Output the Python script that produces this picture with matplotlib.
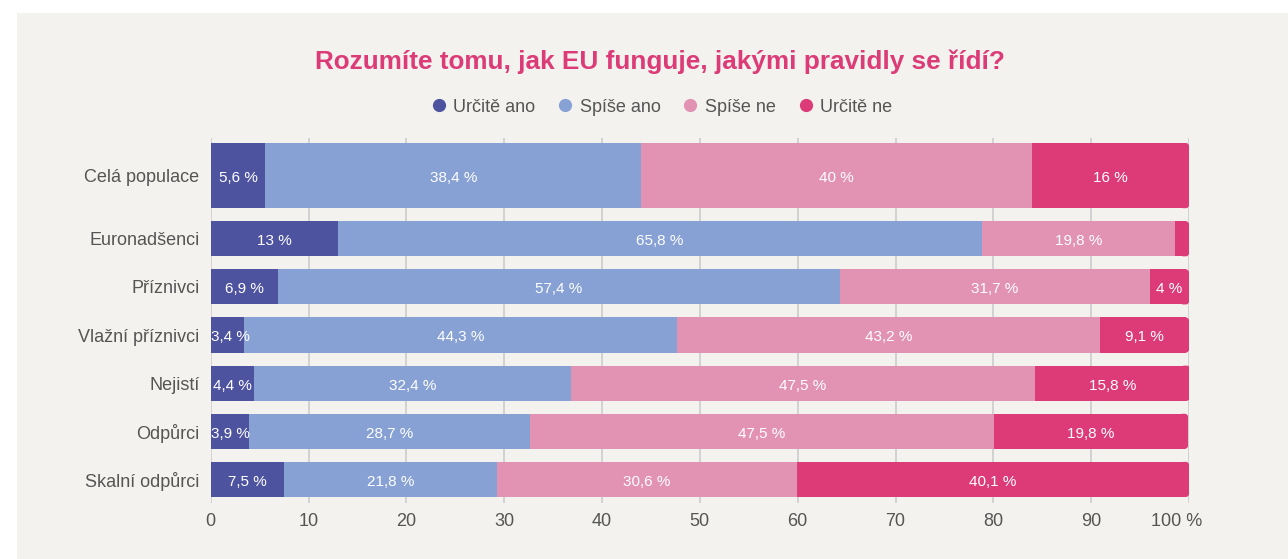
import numpy as np
import matplotlib.pyplot as plt
from matplotlib.patches import Rectangle, FancyBboxPatch
from matplotlib.lines import Line2D
from matplotlib.transforms import ScaledTranslation

# data
categories = ["Celá populace", "Euronadšenci", "Příznivci", "Vlažní příznivci",
              "Nejistí", "Odpůrci", "Skalní odpůrci"]
series = ["Určitě ano", "Spíše ano", "Spíše ne", "Určitě ne"]
urcite_ano = [5.6, 13, 6.9, 3.4, 4.4, 3.9, 7.5]
spise_ano = [38.4, 65.8, 57.4, 44.3, 32.4, 28.7, 21.8]
spise_ne = [40, 19.8, 31.7, 43.2, 47.5, 47.5, 30.6]
urcite_ne = [16, 1.4, 4, 9.1, 15.8, 19.8, 40.1]
xticks = [0, 10, 20, 30, 40, 50, 60, 70, 80, 90, 100]
xticklabels = ["0", "10", "20", "30", "40", "50", "60", "70", "80", "90", "100 %"]

colors = ["#4e53a0", "#87a1d4", "#e293b3", "#dc3b77"]
bg = "#f3f2ee"
text_col = "#555555"

plt.rcParams["font.family"] = ["Liberation Sans", "DejaVu Sans"]

fig = plt.figure(figsize=(12.88, 5.59), dpi=100, facecolor="white")
fig.patches.append(Rectangle((17 / 1288, 0), 1, 1 - 13 / 559, transform=fig.transFigure,
                             facecolor=bg, edgecolor="none", zorder=-5))
ax = fig.add_axes([210.7 / 1288, 1 - 503 / 559, 978.3 / 1288, 365 / 559])
ax.set_facecolor("none")

# first row (whole population) is drawn as a thicker bar
ypos = np.array([-0.3125, 1, 2, 3, 4, 5, 6])
heights = np.array([1.354] + [0.729] * 6)

def fmt(v):
    return ("%g" % v).replace(".", ",") + " %"

all_vals = [urcite_ano, spise_ano, spise_ne, urcite_ne]
left = np.zeros(len(categories))
for k, (name, vals, c) in enumerate(zip(series, all_vals, colors)):
    vals = np.array(vals, dtype=float)
    if k < len(series) - 1:
        ax.barh(ypos, vals, left=left, height=heights, color=c, linewidth=0, zorder=2)
    else:
        # last segment: square part + small rounded cap on the right end
        ax.barh(ypos, vals - 0.35, left=left, height=heights, color=c, linewidth=0, zorder=2)
        for y, h, l, v in zip(ypos, heights, left, vals):
            x0 = max(l, l + v - 0.9)
            ax.add_patch(FancyBboxPatch((x0, y - h / 2), l + v - x0, h,
                                        boxstyle="round,pad=0,rounding_size=0.32",
                                        mutation_aspect=0.2, facecolor=c,
                                        edgecolor="none", zorder=2))
    for y, l, v in zip(ypos, left, vals):
        if v >= 2:
            ax.text(max(l + v / 2, l + 2.0), y + 0.02, fmt(v), ha="center",
                    va="center_baseline", color="white", fontsize=11, zorder=3)
    left += vals

ax.set_xlim(0, 100)
ax.set_ylim(6.49, -1.094)
ax.set_yticks(ypos)
ax.set_yticklabels(categories, fontsize=13, color=text_col)
ax.set_xticks(xticks)
ax.set_xticklabels(xticklabels, fontsize=13, color=text_col)
ax.tick_params(length=0)
ax.tick_params(axis="y", pad=8)
ax.tick_params(axis="x", pad=7)
lab = ax.get_xticklabels()[-1]
lab.set_transform(lab.get_transform() + ScaledTranslation(-0.12, 0, fig.dpi_scale_trans))
ax.set_axisbelow(True)
ax.xaxis.grid(True, color="#cfcfcf", linewidth=1.3, zorder=0)
for s in ax.spines.values():
    s.set_visible(False)

fig.text(660 / 1288, 1 - 62 / 559, "Rozumíte tomu, jak EU funguje, jakými pravidly se řídí?",
         ha="center", va="center", fontsize=18.8, fontweight="bold", color="#dc3b77")

handles = [Line2D([], [], marker="o", linestyle="none", markersize=9.5,
                  markerfacecolor=c, markeredgecolor="none") for c in colors]
fig.legend(handles, series, loc="center", bbox_to_anchor=(661 / 1288, 1 - 107 / 559),
           ncol=4, frameon=False, fontsize=13, handlelength=1, handletextpad=0.3,
           columnspacing=1.15, labelcolor=text_col)

plt.savefig("out.png", dpi=100, facecolor="white")
